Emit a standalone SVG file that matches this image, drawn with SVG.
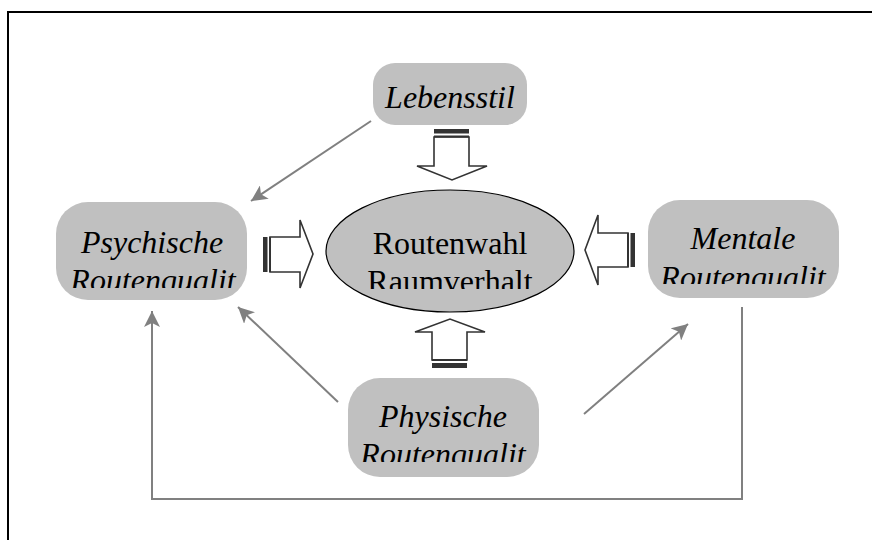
<svg xmlns="http://www.w3.org/2000/svg" width="872" height="540" viewBox="0 0 872 540">
<style>
.box{fill:#c0c0c0;}
.lbl{font-family:"Liberation Serif","Times New Roman",serif;font-size:32px;font-style:italic;fill:#000;text-anchor:middle;}
.mid{font-family:"Liberation Serif","Times New Roman",serif;font-size:32px;fill:#000;text-anchor:middle;}
.conn{fill:none;stroke:#808080;stroke-width:2;}
.blk{fill:#fff;stroke:#333;stroke-width:1.6;stroke-linejoin:miter;}
.stripe{fill:#333;}
</style>
<defs>
<marker id="ah" markerUnits="userSpaceOnUse" markerWidth="18" markerHeight="16" refX="16" refY="8" orient="auto">
<path d="M0,0 L16,8 L0,16 L4,8 z" fill="#808080"/>
</marker>
<clipPath id="cPsy"><rect x="56" y="202" width="191" height="86"/></clipPath>
<clipPath id="cMen"><rect x="648" y="200" width="191" height="84"/></clipPath>
<clipPath id="cPhy"><rect x="348" y="378" width="191" height="84"/></clipPath>
<clipPath id="cEll"><rect x="326" y="190" width="248" height="99"/></clipPath>
</defs>
<rect x="0" y="0" width="872" height="540" fill="#fff"/>
<path d="M8,540 V12 H872" fill="none" stroke="#000" stroke-width="2"/>

<g id="connectors">
<path class="conn" d="M371,121 L251,201" marker-end="url(#ah)"/>
<path class="conn" d="M338,402 L238,307" marker-end="url(#ah)"/>
<path class="conn" d="M584,414 L688,324" marker-end="url(#ah)"/>
<path class="conn" d="M742,307 V499 H152 V311" marker-end="url(#ah)"/>
<g id="arrow-down">
<polygon class="blk" points="434,137 469,137 469,166 487,166 452,180 417,166 434,166"/>
<rect class="stripe" x="434" y="129" width="35" height="4.5"/>
<rect class="stripe" x="434" y="135.5" width="35" height="2"/>
</g>
<g id="arrow-right">
<polygon class="blk" points="270,237 300,237 300,220 313,254 300,288 300,272 270,272"/>
<rect class="stripe" x="263" y="237" width="4.5" height="35"/>
<rect class="stripe" x="269" y="237" width="2" height="35"/>
</g>
<g id="arrow-left">
<polygon class="blk" points="628,233 598,233 598,215 585,250 598,285 598,267 628,267"/>
<rect class="stripe" x="627" y="233" width="2" height="34"/>
<rect class="stripe" x="630.5" y="233" width="4.5" height="34"/>
</g>
<g id="arrow-up">
<polygon class="blk" points="432,360 467,360 467,332 485,332 450,319 415,332 432,332"/>
<rect class="stripe" x="432" y="359" width="35" height="2"/>
<rect class="stripe" x="432" y="363" width="35" height="5"/>
</g>
</g>

<g id="lebensstil">
<rect class="box" x="373" y="63" width="154" height="62" rx="22"/>
<text class="lbl" x="450" y="108">Lebensstil</text>
</g>

<g id="psychische">
<rect class="box" x="56" y="202" width="191" height="98" rx="32"/>
<g clip-path="url(#cPsy)">
<text class="lbl" x="152" y="253">Psychische</text>
<text class="lbl" x="153" y="291">Routenqualit</text>
</g>
</g>

<g id="mentale">
<rect class="box" x="648" y="200" width="191" height="98" rx="32"/>
<g clip-path="url(#cMen)">
<text class="lbl" x="743" y="249">Mentale</text>
<text class="lbl" x="743" y="288">Routenqualit</text>
</g>
</g>

<g id="physische">
<rect class="box" x="348" y="378" width="191" height="99" rx="32"/>
<g clip-path="url(#cPhy)">
<text class="lbl" x="443" y="427">Physische</text>
<text class="lbl" x="443" y="465">Routenqualit</text>
</g>
</g>

<g id="routenwahl">
<ellipse cx="450" cy="251" rx="124" ry="61" fill="#c0c0c0" stroke="#000" stroke-width="1.2"/>
<g clip-path="url(#cEll)">
<text class="mid" x="450" y="254">Routenwahl</text>
<text class="mid" x="450" y="292">Raumverhalt</text>
</g>
</g>
</svg>
